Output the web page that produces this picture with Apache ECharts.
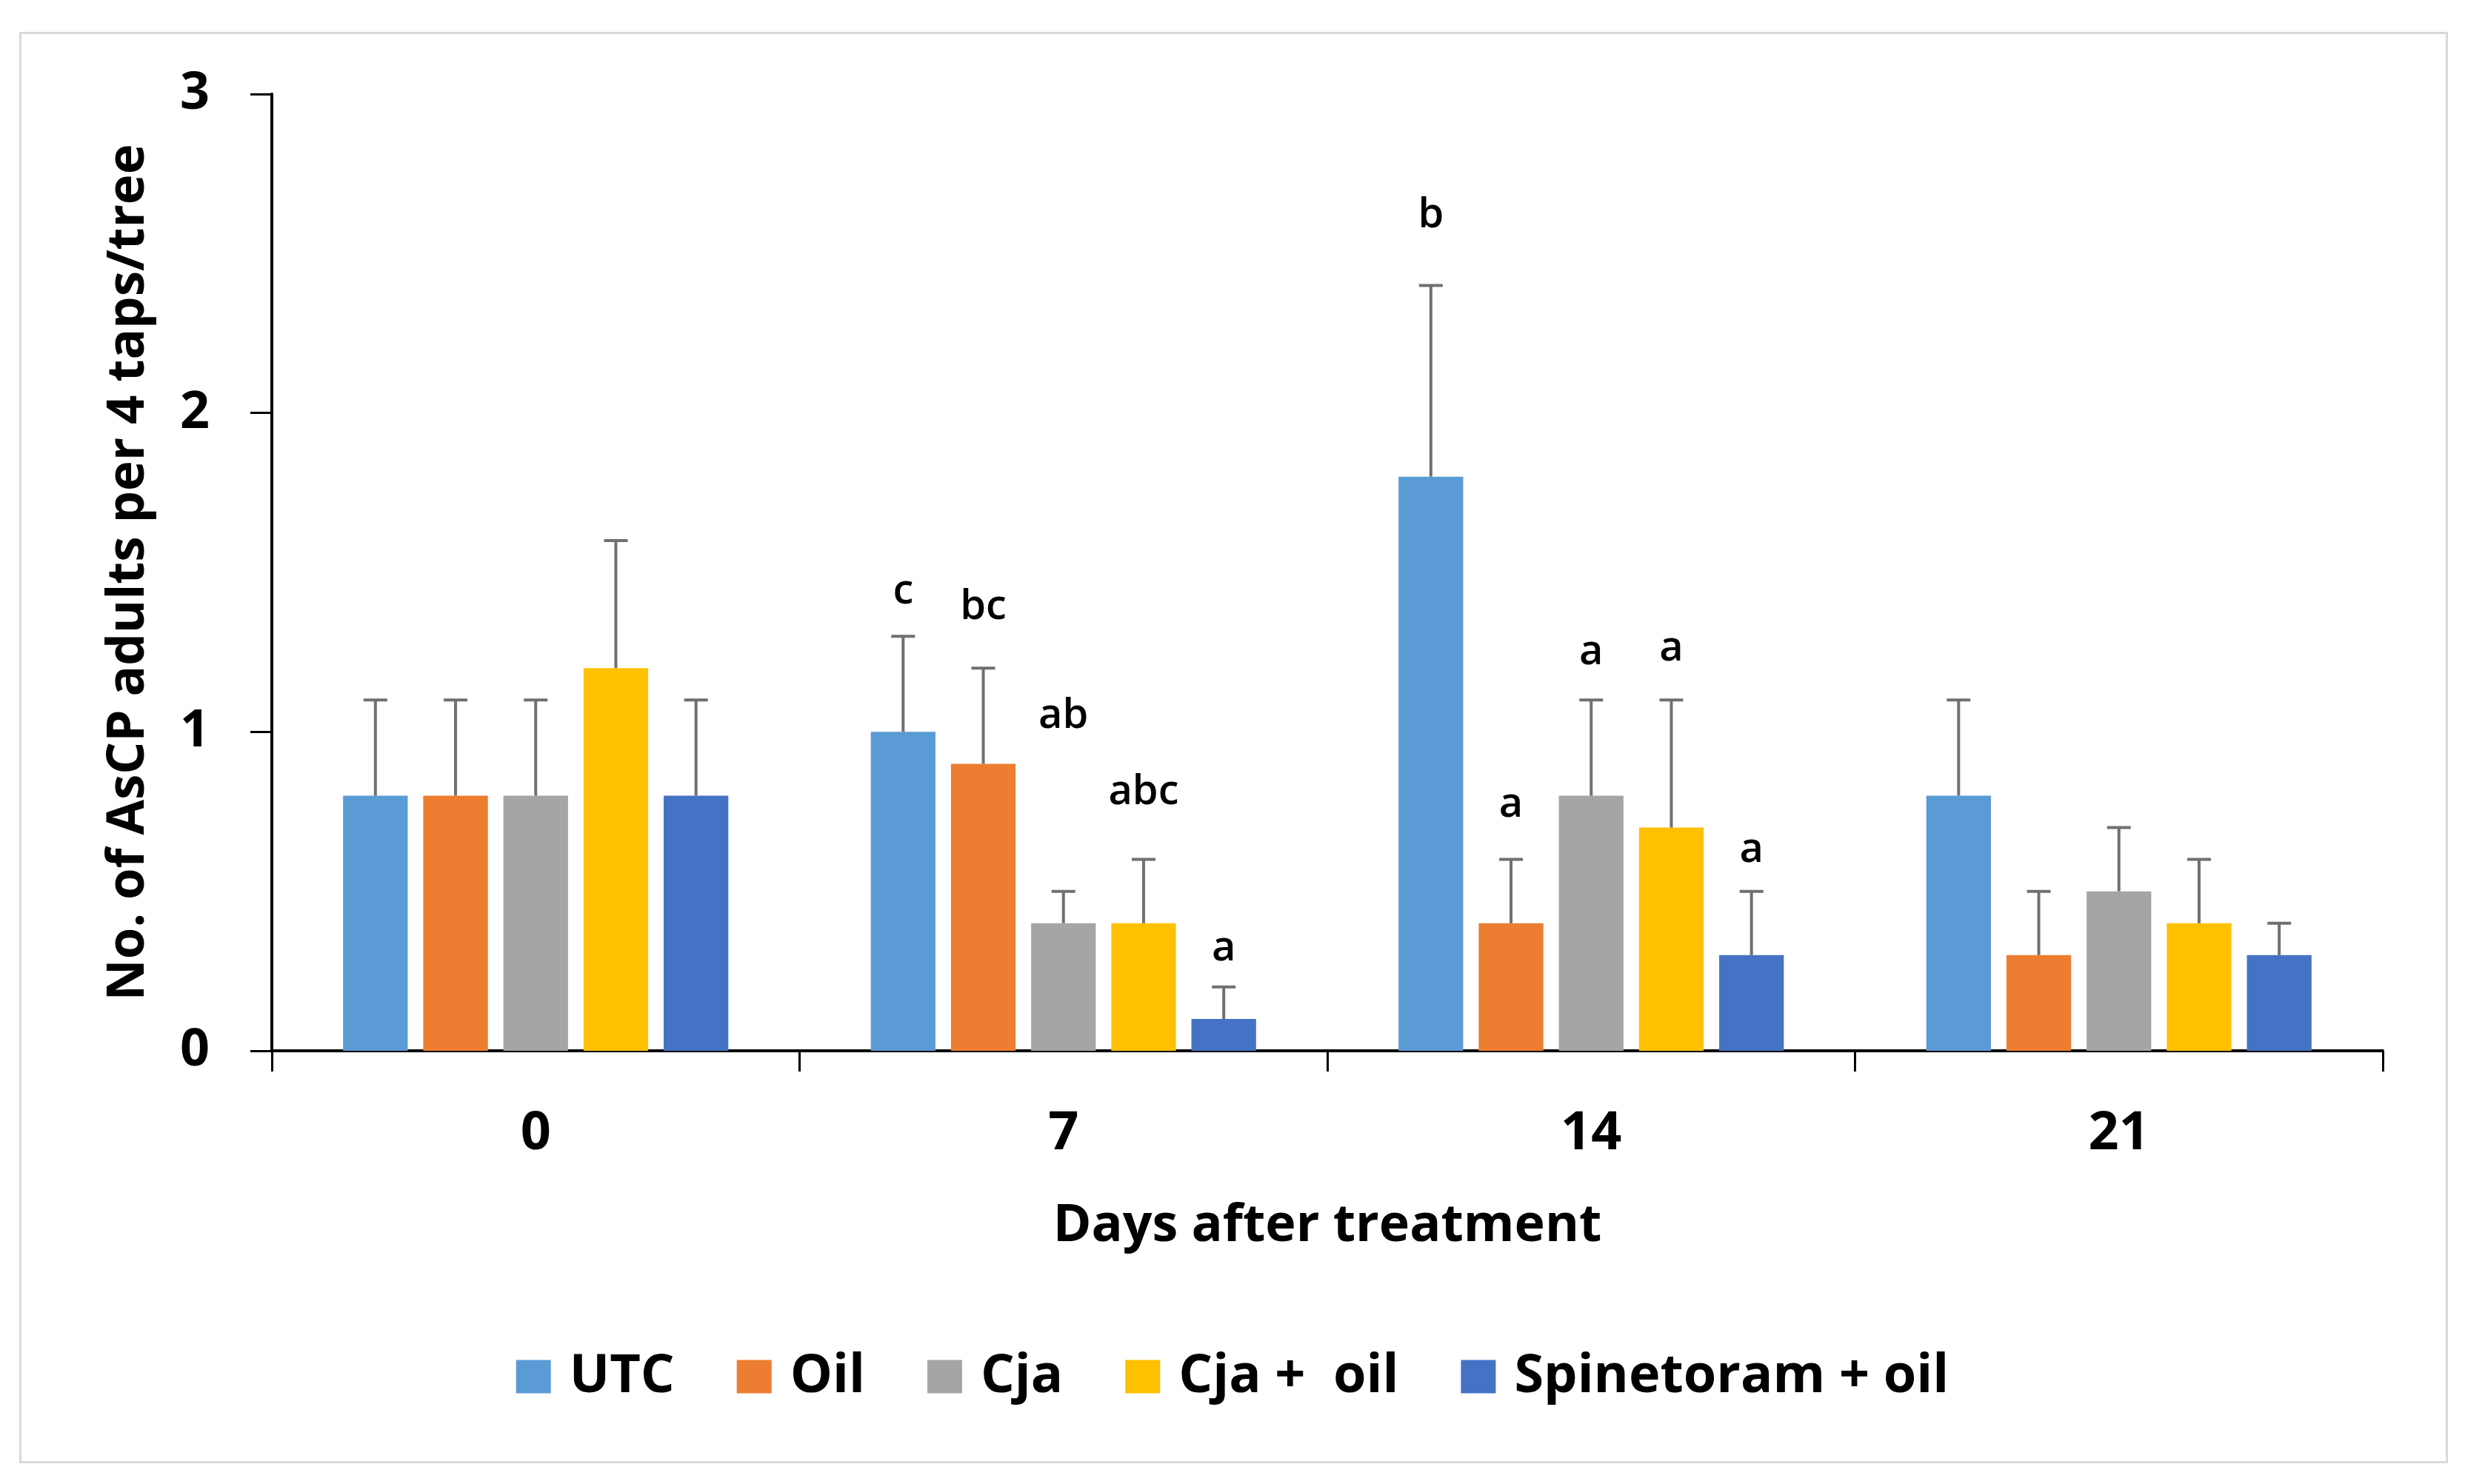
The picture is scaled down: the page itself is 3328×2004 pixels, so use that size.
<!DOCTYPE html>
<html>
<head>
<meta charset="utf-8">
<script src="https://cdn.jsdelivr.net/npm/echarts@6/dist/echarts.min.js"></script>
<style>
html,body{margin:0;padding:0;background:#fff;}
#chart{width:3328px;height:2004px;}
#frame{position:absolute;left:26px;top:43px;width:3273px;height:1927px;border:3px solid #d9d9d9;pointer-events:none;}
</style>
</head>
<body>
<div id="chart"></div>
<div id="frame"></div>
<script>
// ---- data ----
const days = ['0', '7', '14', '21'];
const treatments = ['UTC', 'Oil', 'Cja', 'Cja +  oil', 'Spinetoram + oil'];
const colors = ['#5B9BD5', '#ED7D31', '#A5A5A5', '#FFC000', '#4472C4'];

const utcMean = [0.8, 1.0, 1.8, 0.8];
const oilMean = [0.8, 0.9, 0.4, 0.3];
const cjaMean = [0.8, 0.4, 0.8, 0.5];
const cjaOilMean = [1.2, 0.4, 0.7, 0.4];
const spinMean = [0.8, 0.1, 0.3, 0.3];

const utcErr = [0.3, 0.3, 0.6, 0.3];
const oilErr = [0.3, 0.3, 0.2, 0.2];
const cjaErr = [0.3, 0.1, 0.3, 0.2];
const cjaOilErr = [0.4, 0.2, 0.4, 0.2];
const spinErr = [0.3, 0.1, 0.2, 0.1];

// significance letters (day index, treatment index, letter, height on y scale)
const letterDay = [1, 1, 1, 1, 1, 2, 2, 2, 2, 2];
const letterTreatment = [0, 1, 2, 3, 4, 0, 1, 2, 3, 4];
const letterText = ['c', 'bc', 'ab', 'abc', 'a', 'b', 'a', 'a', 'a', 'a'];
const letterY = [1.44, 1.39, 1.05, 0.81, 0.32, 2.62, 0.77, 1.25, 1.26, 0.63];

const yTicks = { min: 0, max: 3, interval: 1 };

const means = [utcMean, oilMean, cjaMean, cjaOilMean, spinMean];
const errs = [utcErr, oilErr, cjaErr, cjaOilErr, spinErr];

// ---- layout helpers (mirror ECharts bar layout) ----
const N = treatments.length;
const BAR_GAP = 0.24, CAT_GAP = 0.27;
function barCenterX(api, catIdx, sIdx) {
  const band = api.size([1, 0])[0];
  const bw = band * (1 - CAT_GAP) / (N + (N - 1) * BAR_GAP);
  const total = N * bw + (N - 1) * BAR_GAP * bw;
  const c = api.coord([catIdx, 0])[0];
  return c - total / 2 + sIdx * bw * (1 + BAR_GAP) + bw / 2;
}

const FONT = "'Open Sans', 'DejaVu Sans', sans-serif";

const series = [];
treatments.forEach((name, s) => {
  series.push({
    name: name,
    type: 'bar',
    data: means[s],
    itemStyle: { color: colors[s] },
    barGap: '24%',
    barCategoryGap: '27%',
    z: 2
  });
});
treatments.forEach((name, s) => {
  series.push({
    name: name + ' SE',
    type: 'custom',
    z: 3,
    clip: false,
    data: means[s].map((m, i) => [i, m, errs[s][i]]),
    renderItem: function (params, api) {
      const ci = api.value(0), m = api.value(1), e = api.value(2);
      const x = barCenterX(api, ci, s);
      const yb = api.coord([ci, m])[1];
      const yt = api.coord([ci, m + e])[1];
      const cap = 16;
      const st = { stroke: '#707070', lineWidth: 4 };
      return {
        type: 'group',
        children: [
          { type: 'line', shape: { x1: x, y1: yb, x2: x, y2: yt }, style: st },
          { type: 'line', shape: { x1: x - cap, y1: yt, x2: x + cap, y2: yt }, style: st }
        ]
      };
    }
  });
});
series.push({
  name: 'letters',
  type: 'custom',
  z: 4,
  clip: false,
  data: letterDay.map((d, k) => [d, letterTreatment[k], letterY[k]]),
  renderItem: function (params, api) {
    const ci = api.value(0), s = api.value(1), y = api.value(2);
    const x = barCenterX(api, ci, s);
    const py = api.coord([ci, y])[1];
    return {
      type: 'text',
      x: x, y: py,
      style: {
        text: letterText[params.dataIndex],
        fontFamily: FONT, fontSize: 56, fontWeight: 600,
        fill: '#000', align: 'center', verticalAlign: 'middle'
      }
    };
  }
});

const chart = echarts.init(document.getElementById('chart'), null, { renderer: 'canvas' });
chart.setOption({
  animation: false,
  backgroundColor: '#fff',
  textStyle: { fontFamily: FONT },
  grid: { left: 367, right: 111, top: 127, bottom: 585, containLabel: false },
  legend: {
    data: treatments,
    bottom: 104,
    left: 'center',
    itemWidth: 47,
    itemHeight: 45,
    itemGap: 84,
    icon: 'rect',
    textStyle: { fontFamily: FONT, fontSize: 72, fontWeight: 'bold', color: '#000', padding: [0, 0, 0, 20] }
  },
  xAxis: {
    type: 'category',
    data: days,
    name: 'Days after treatment',
    nameLocation: 'middle',
    nameGap: 202,
    nameTextStyle: { fontFamily: FONT, fontSize: 70, fontWeight: 'bold', color: '#000' },
    axisLine: { lineStyle: { color: '#000', width: 4 } },
    axisTick: { show: true, length: 28, lineStyle: { color: '#000', width: 3 } },
    axisLabel: { fontFamily: FONT, fontSize: 72, fontWeight: 'bold', color: '#000', margin: 76 },
    splitLine: { show: false }
  },
  yAxis: {
    type: 'value',
    min: yTicks.min, max: yTicks.max, interval: yTicks.interval,
    name: 'No. of AsCP adults per 4 taps/tree',
    nameLocation: 'middle',
    nameGap: 158,
    nameTextStyle: { fontFamily: FONT, fontSize: 69, fontWeight: 'bold', color: '#000' },
    axisLine: { show: true, lineStyle: { color: '#000', width: 4 } },
    axisTick: { show: true, length: 29, lineStyle: { color: '#000', width: 3 } },
    axisLabel: { fontFamily: FONT, fontSize: 70, fontWeight: 'bold', color: '#000', margin: 84 },
    splitLine: { show: false }
  },
  series: series
});
</script>
</body>
</html>
